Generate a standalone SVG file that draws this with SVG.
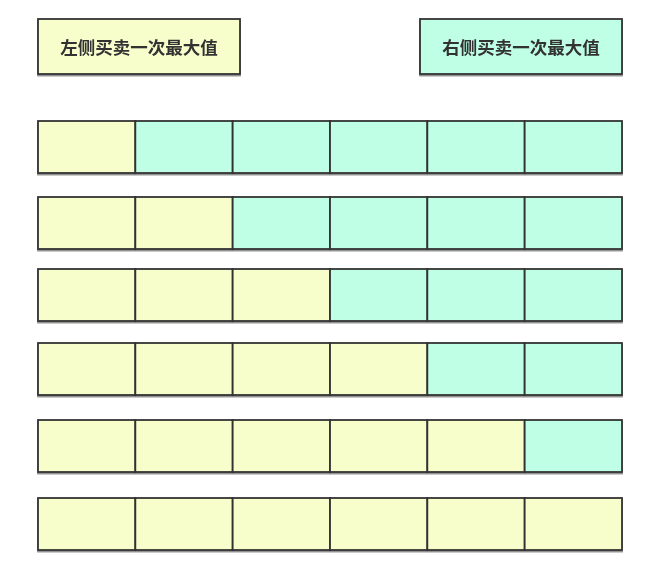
<svg xmlns="http://www.w3.org/2000/svg" width="668" height="561" viewBox="0 0 668 561">
<defs>
<style>
.box{stroke:#333;stroke-width:1.8}
.y{fill:#F7FECC}
.g{fill:#BEFFE5}
.lbl{font-family:"Noto Sans CJK SC","Liberation Sans",sans-serif;font-size:17.5px;font-weight:bold;fill:#333;text-anchor:middle}
.row{filter:url(#sh)}
</style>
<filter id="sh" x="-5%" y="-20%" width="110%" height="150%">
<feDropShadow dx="0" dy="1.5" stdDeviation="0.4" flood-color="#000" flood-opacity="0.45"/>
</filter>
</defs>
<rect width="668" height="561" fill="#fff"/>
<g id="label-left" class="row">
<rect class="box y" x="38" y="19" width="202" height="55"/>
<text class="lbl" x="139" y="54">左侧买卖一次最大值</text>
</g>
<g id="label-right" class="row">
<rect class="box g" x="420" y="19" width="202" height="55"/>
<text class="lbl" x="521" y="54">右侧买卖一次最大值</text>
</g>
<g id="row1" class="row">
<rect class="box y" x="38" y="121" width="97.33" height="52"/>
<rect class="box g" x="135.33" y="121" width="97.33" height="52"/>
<rect class="box g" x="232.67" y="121" width="97.33" height="52"/>
<rect class="box g" x="330" y="121" width="97.33" height="52"/>
<rect class="box g" x="427.33" y="121" width="97.33" height="52"/>
<rect class="box g" x="524.67" y="121" width="97.33" height="52"/>
</g>
<g id="row2" class="row">
<rect class="box y" x="38" y="197" width="97.33" height="52"/>
<rect class="box y" x="135.33" y="197" width="97.33" height="52"/>
<rect class="box g" x="232.67" y="197" width="97.33" height="52"/>
<rect class="box g" x="330" y="197" width="97.33" height="52"/>
<rect class="box g" x="427.33" y="197" width="97.33" height="52"/>
<rect class="box g" x="524.67" y="197" width="97.33" height="52"/>
</g>
<g id="row3" class="row">
<rect class="box y" x="38" y="269" width="97.33" height="52"/>
<rect class="box y" x="135.33" y="269" width="97.33" height="52"/>
<rect class="box y" x="232.67" y="269" width="97.33" height="52"/>
<rect class="box g" x="330" y="269" width="97.33" height="52"/>
<rect class="box g" x="427.33" y="269" width="97.33" height="52"/>
<rect class="box g" x="524.67" y="269" width="97.33" height="52"/>
</g>
<g id="row4" class="row">
<rect class="box y" x="38" y="343" width="97.33" height="52"/>
<rect class="box y" x="135.33" y="343" width="97.33" height="52"/>
<rect class="box y" x="232.67" y="343" width="97.33" height="52"/>
<rect class="box y" x="330" y="343" width="97.33" height="52"/>
<rect class="box g" x="427.33" y="343" width="97.33" height="52"/>
<rect class="box g" x="524.67" y="343" width="97.33" height="52"/>
</g>
<g id="row5" class="row">
<rect class="box y" x="38" y="420" width="97.33" height="52"/>
<rect class="box y" x="135.33" y="420" width="97.33" height="52"/>
<rect class="box y" x="232.67" y="420" width="97.33" height="52"/>
<rect class="box y" x="330" y="420" width="97.33" height="52"/>
<rect class="box y" x="427.33" y="420" width="97.33" height="52"/>
<rect class="box g" x="524.67" y="420" width="97.33" height="52"/>
</g>
<g id="row6" class="row">
<rect class="box y" x="38" y="498" width="97.33" height="52"/>
<rect class="box y" x="135.33" y="498" width="97.33" height="52"/>
<rect class="box y" x="232.67" y="498" width="97.33" height="52"/>
<rect class="box y" x="330" y="498" width="97.33" height="52"/>
<rect class="box y" x="427.33" y="498" width="97.33" height="52"/>
<rect class="box y" x="524.67" y="498" width="97.33" height="52"/>
</g>
<g id="connectors"/>
</svg>
